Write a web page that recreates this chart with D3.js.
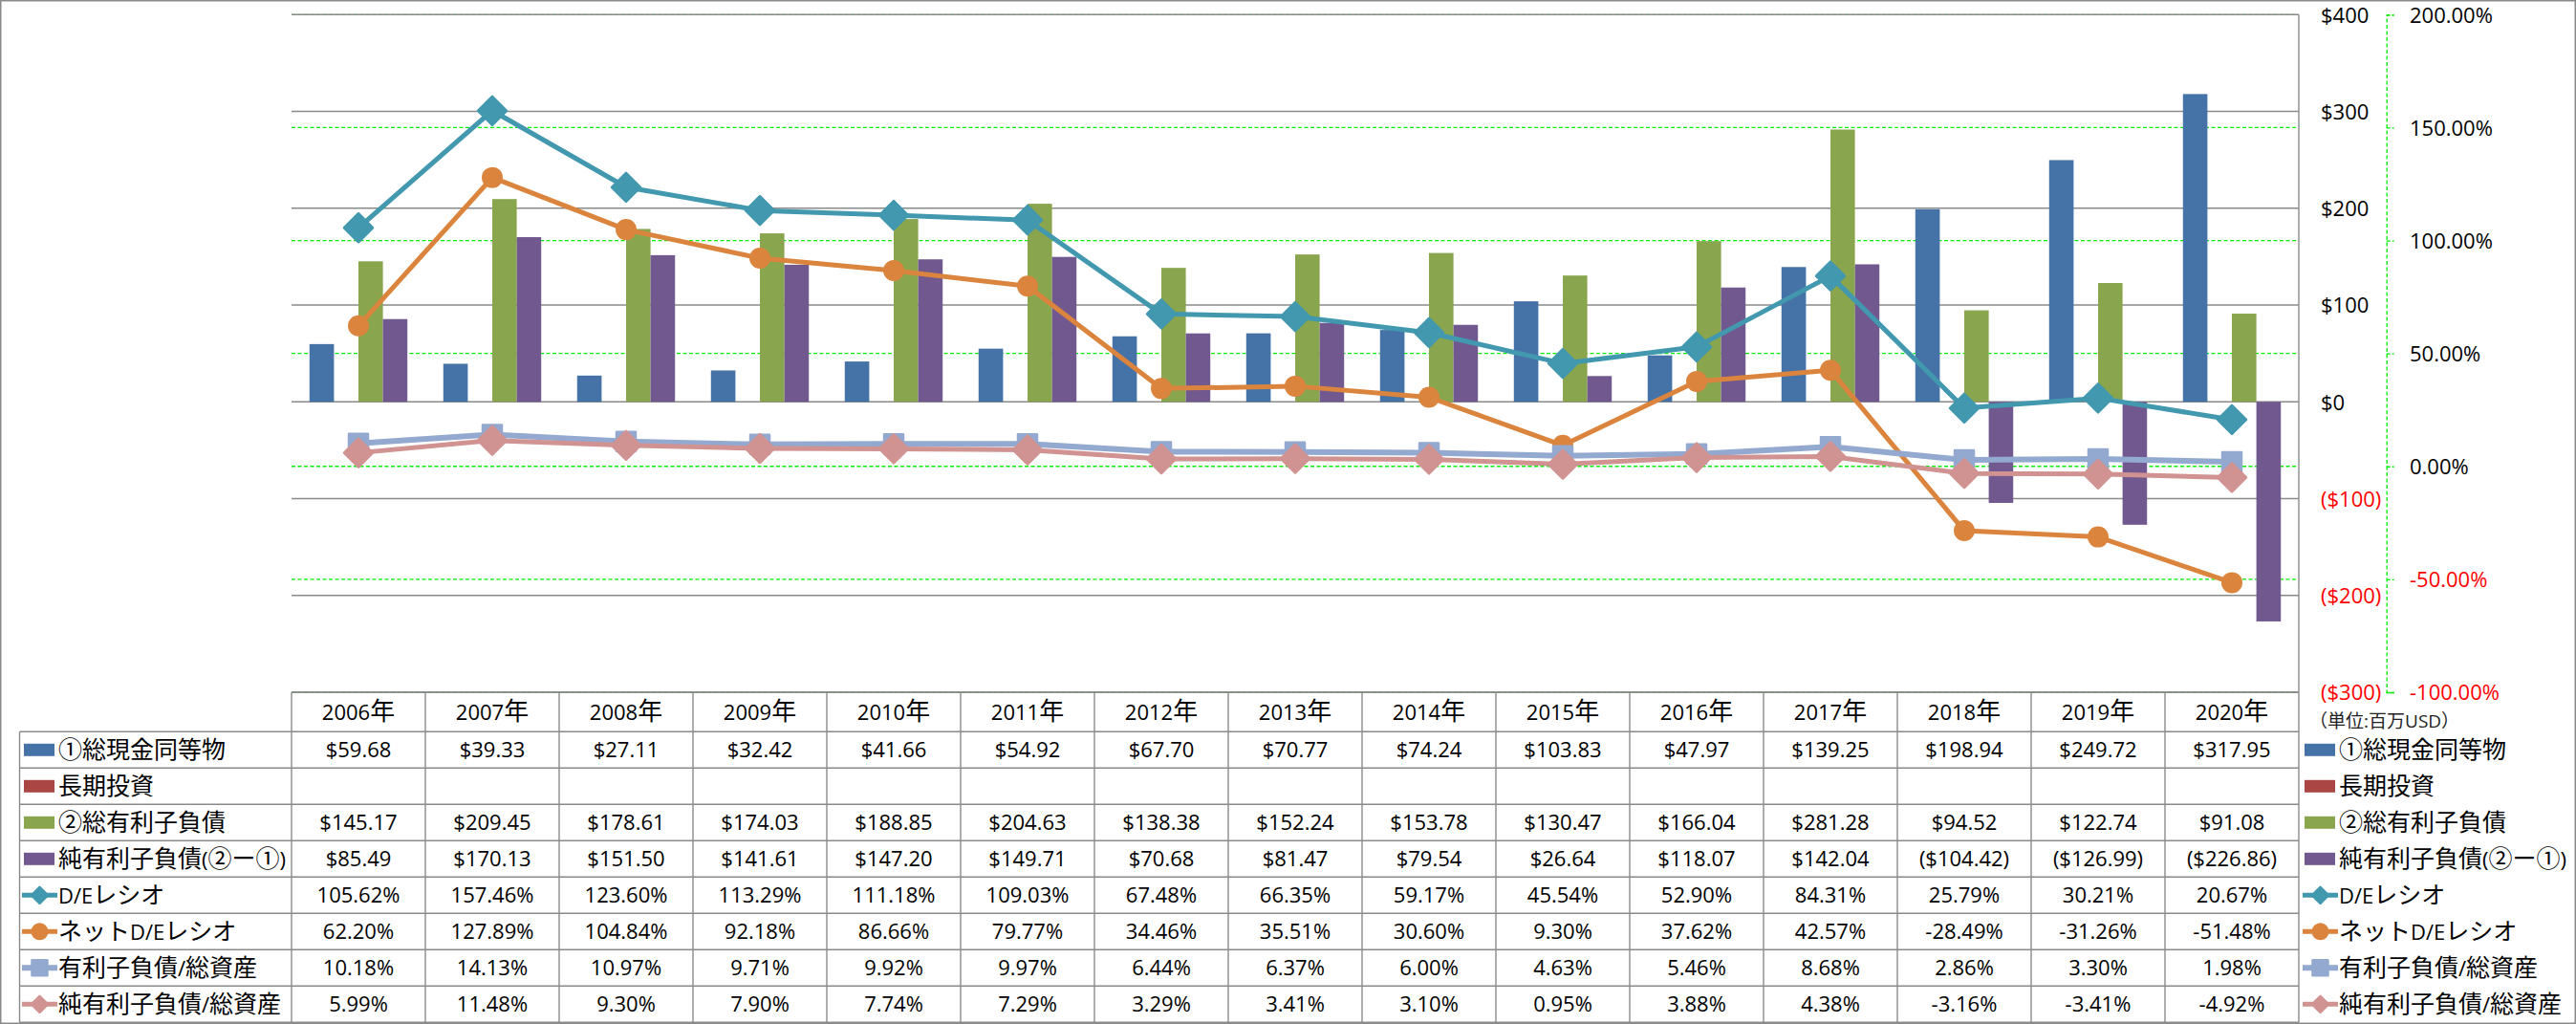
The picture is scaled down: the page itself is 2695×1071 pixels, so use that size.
<!DOCTYPE html>
<html><head><meta charset="utf-8">
<script src="https://cdn.jsdelivr.net/npm/d3@7"></script>
<style>body{margin:0;background:#fff}svg{display:block}</style>
</head><body>
<svg id="c" width="2695" height="1071"></svg>
<script>
// ---------- data ----------
const years = ["2006","2007","2008","2009","2010","2011","2012","2013","2014","2015","2016","2017","2018","2019","2020"];
const cash = [59.68,39.33,27.11,32.42,41.66,54.92,67.70,70.77,74.24,103.83,47.97,139.25,198.94,249.72,317.95];
const longInv = [null,null,null,null,null,null,null,null,null,null,null,null,null,null,null];
const debt = [145.17,209.45,178.61,174.03,188.85,204.63,138.38,152.24,153.78,130.47,166.04,281.28,94.52,122.74,91.08];
const netDebt = [85.49,170.13,151.50,141.61,147.20,149.71,70.68,81.47,79.54,26.64,118.07,142.04,-104.42,-126.99,-226.86];
const deRatio = [105.62,157.46,123.60,113.29,111.18,109.03,67.48,66.35,59.17,45.54,52.90,84.31,25.79,30.21,20.67];
const netDeRatio = [62.20,127.89,104.84,92.18,86.66,79.77,34.46,35.51,30.60,9.30,37.62,42.57,-28.49,-31.26,-51.48];
const debtToAssets = [10.18,14.13,10.97,9.71,9.92,9.97,6.44,6.37,6.00,4.63,5.46,8.68,2.86,3.30,1.98];
const netDebtToAssets = [5.99,11.48,9.30,7.90,7.74,7.29,3.29,3.41,3.10,0.95,3.88,4.38,-3.16,-3.41,-4.92];
const dollarTicks = [400,300,200,100,0,-100,-200,-300];
const pctTicks = [200,150,100,50,0,-50,-100];
const seriesNames = ["①総現金同等物","長期投資","②総有利子負債","純有利子負債(②ー①)","D/Eレシオ","ネットD/Eレシオ","有利子負債/総資産","純有利子負債/総資産"];
const unitLabel = "（単位:百万USD）";

// ---------- setup ----------
const LATIN = "'Open Sans','Noto Sans CJK JP',sans-serif";
const CJK = "'Noto Sans CJK JP',sans-serif";
const svg = d3.select("#c");
const plotL = 305, plotR = 2405, plotT = 15.3, plotB = 724;
const tableTop = 724, headH = 41.3, rowH = 38, labelL = 20.5;

const x0 = d3.scaleBand().domain(years).range([plotL, plotR]).padding(0);
const barKeys = ["cash","longInv","debt","netDebt"];
const x1 = d3.scaleBand().domain(barKeys).range([0, x0.bandwidth()]).paddingInner(0).paddingOuter(0.734);
const yL = d3.scaleLinear().domain([-300, 400]).range([plotB, plotT]);
const yR = d3.scaleLinear().domain([-100, 200]).range([plotB, plotT]);
const cx = y => x0(y) + x0.bandwidth() / 2;

const series = [
  {key:"cash", name:seriesNames[0], type:"bar", color:"#4572A7", values:cash, fmt:"d"},
  {key:"longInv", name:seriesNames[1], type:"bar", color:"#AA4643", values:longInv, fmt:"d"},
  {key:"debt", name:seriesNames[2], type:"bar", color:"#89A54E", values:debt, fmt:"d"},
  {key:"netDebt", name:seriesNames[3], type:"bar", color:"#71588F", values:netDebt, fmt:"d"},
  {key:"de", name:seriesNames[4], type:"line", marker:"diamond", color:"#4198AF", values:deRatio, fmt:"p", lw:5},
  {key:"netde", name:seriesNames[5], type:"line", marker:"circle", color:"#DB843D", values:netDeRatio, fmt:"p", lw:5},
  {key:"dta", name:seriesNames[6], type:"line", marker:"square", color:"#93A9CF", values:debtToAssets, fmt:"p", lw:6},
  {key:"ndta", name:seriesNames[7], type:"line", marker:"diamond", color:"#D19392", values:netDebtToAssets, fmt:"p", lw:5}
];

const f2abs = d3.format(".2f");
const f2 = v => (v < 0 ? "-" : "") + f2abs(Math.abs(v));
const fmtDollar = v => v == null ? "" : (v < 0 ? "($" + f2abs(-v) + ")" : "$" + f2abs(v));
const fmtPct = v => v == null ? "" : f2(v) + "%";

function mixedText(sel, str, latinSize, cjkSize) {
  const re = /[\u2460-\u24ff\u3000-\u9fff\uff00-\uffef]/;
  let runs = [], cur = "", curC = null;
  for (const ch of str) {
    const c = re.test(ch);
    if (curC === null || c === curC) { cur += ch; curC = c; }
    else { runs.push([cur, curC]); cur = ch; curC = c; }
  }
  if (cur) runs.push([cur, curC]);
  runs.forEach(([s, c]) => {
    sel.append("tspan").style("font-family", c ? CJK : LATIN)
      .style("font-size", (c ? cjkSize : latinSize) + "px").text(s);
  });
  return sel;
}

function markerPath(type, r) {
  if (type === "diamond") return `M0,${-r}L${r},0L0,${r}L${-r},0Z`;
  if (type === "square") return `M${-r},${-r}H${r}V${r}H${-r}Z`;
  return null;
}
function drawMarker(g, s, x, y, r) {
  if (s.marker === "circle") {
    g.append("circle").attr("cx", x).attr("cy", y).attr("r", r).attr("fill", s.color);
  } else {
    g.append("path").attr("d", markerPath(s.marker, r)).attr("transform", `translate(${x},${y})`)
      .attr("fill", s.color).attr("stroke", s.color).attr("stroke-width", 2.5).attr("stroke-linejoin", "round");
  }
}

// outer border
svg.append("rect").attr("x", 0.75).attr("y", 0.75).attr("width", 2693.5).attr("height", 1069.5)
  .attr("fill", "#fff").attr("stroke", "#8a8a8a").attr("stroke-width", 1.5);

// green dashed gridlines (secondary)
svg.append("g").selectAll("line").data(pctTicks).join("line")
  .attr("x1", plotL).attr("x2", plotR - 2).attr("y1", d => yR(d)).attr("y2", d => yR(d))
  .attr("stroke", "#00ee00").attr("stroke-width", 1.3).attr("stroke-dasharray", "4,2.5");

// gray gridlines (primary)
svg.append("g").selectAll("line").data(dollarTicks).join("line")
  .attr("x1", plotL).attr("x2", plotR).attr("y1", d => yL(d)).attr("y2", d => yL(d))
  .attr("stroke", "#8a8a8a").attr("stroke-width", 1.4);

// bars
const barG = svg.append("g");
series.filter(s => s.type === "bar").forEach(s => {
  barG.append("g").selectAll("rect").data(years.map((y, i) => ({y, v: s.values[i]})).filter(d => d.v != null))
    .join("rect")
    .attr("x", d => x0(d.y) + x1(s.key))
    .attr("width", x1.bandwidth())
    .attr("y", d => yL(Math.max(0, d.v)))
    .attr("height", d => Math.abs(yL(d.v) - yL(0)))
    .attr("fill", s.color);
});

// lines
const lineG = svg.append("g");
series.filter(s => s.type === "line").forEach(s => {
  const pts = years.map((y, i) => [cx(y), yR(s.values[i])]);
  lineG.append("path").attr("d", d3.line()(pts)).attr("fill", "none")
    .attr("stroke", s.color).attr("stroke-width", s.lw).attr("stroke-linejoin", "round");
  const mg = lineG.append("g");
  const r = s.marker === "circle" ? 11 : (s.marker === "square" ? 10 : 15);
  pts.forEach(p => drawMarker(mg, s, p[0], p[1], r));
});

// plot right border / table right border
svg.append("line").attr("x1", plotR).attr("x2", plotR).attr("y1", plotT).attr("y2", tableTop + headH + rowH * 8)
  .attr("stroke", "#8a8a8a").attr("stroke-width", 1.4);

// primary axis labels (right side, no line)
const axL = svg.append("g").attr("transform", `translate(2428,0)`)
  .call(d3.axisRight(yL).tickValues(dollarTicks).tickSize(0).tickPadding(0)
    .tickFormat(d => d < 0 ? "($" + (-d) + ")" : "$" + d));
axL.select(".domain").remove();
axL.selectAll("text").style("font-family", LATIN).style("font-size", "22px")
  .attr("fill", d => d < 0 ? "#ff0000" : "#000").attr("dy", "0.36em");

// secondary axis
const axR = svg.append("g").attr("transform", `translate(2496.7,0)`)
  .call(d3.axisRight(yR).tickValues(pctTicks).tickSize(8).tickPadding(16.3)
    .tickFormat(d => f2(d) + "%"));
axR.select(".domain").attr("stroke", "#00ee00").attr("stroke-width", 1.3).attr("stroke-dasharray", "4,2.5");
axR.selectAll(".tick line").attr("stroke", "#00ee00").attr("stroke-width", 1.3).attr("stroke-dasharray", "4,2");
axR.selectAll("text").style("font-family", LATIN).style("font-size", "22px")
  .attr("fill", d => d < 0 ? "#ff0000" : "#000").attr("dy", "0.36em");

// unit label
mixedText(svg.append("text").attr("x", 2416).attr("y", 761).attr("fill", "#222"), unitLabel, 19, 19);

// ---------- data table ----------
const tG = svg.append("g");
const gridC = "#8a8a8a";
const rowY = i => tableTop + headH + rowH * i;
tG.append("line").attr("x1", plotL).attr("x2", plotR).attr("y1", tableTop).attr("y2", tableTop).attr("stroke", gridC).attr("stroke-width", 1.4);
d3.range(9).forEach(i => {
  tG.append("line").attr("x1", labelL).attr("x2", plotR).attr("y1", rowY(i)).attr("y2", rowY(i))
    .attr("stroke", gridC).attr("stroke-width", 1.4);
});
tG.append("line").attr("x1", labelL).attr("x2", labelL).attr("y1", rowY(0)).attr("y2", rowY(8)).attr("stroke", gridC).attr("stroke-width", 1.4);
years.forEach(y => {
  tG.append("line").attr("x1", x0(y)).attr("x2", x0(y)).attr("y1", tableTop).attr("y2", rowY(8)).attr("stroke", gridC).attr("stroke-width", 1.4);
});
years.forEach(y => {
  mixedText(tG.append("text").attr("x", cx(y)).attr("y", tableTop + headH / 2 + 8.5).attr("text-anchor", "middle").attr("fill", "#000"), y + "年", 22, 26);
});

function drawKey(g, s, x, cyy) {
  if (s.type === "bar") {
    g.append("rect").attr("x", x).attr("y", cyy - 6.5).attr("width", 32).attr("height", 13).attr("fill", s.color);
  } else {
    g.append("line").attr("x1", x - 2).attr("x2", x + 35).attr("y1", cyy).attr("y2", cyy)
      .attr("stroke", s.color).attr("stroke-width", s.lw);
    const r = s.marker === "circle" ? 9 : (s.marker === "square" ? 8 : 8.5);
    drawMarker(g, s, x + 16.5, cyy, r);
  }
}

series.forEach((s, i) => {
  const cyy = rowY(i) + rowH / 2;
  drawKey(tG, s, 25, cyy);
  mixedText(tG.append("text").attr("x", 61).attr("y", cyy + 9).attr("fill", "#000"), s.name, 22, 25);
  drawKey(tG, s, 2411, cyy);
  mixedText(tG.append("text").attr("x", 2447).attr("y", cyy + 9).attr("fill", "#000"), s.name, 22, 25);
  const fmt = s.fmt === "d" ? fmtDollar : fmtPct;
  years.forEach((y, j) => {
    const v = s.values[j];
    if (v == null) return;
    tG.append("text").attr("x", cx(y)).attr("y", cyy + 8).attr("text-anchor", "middle")
      .style("font-family", LATIN).style("font-size", "22px").attr("fill", "#000").text(fmt(v));
  });
});
</script>
</body></html>
